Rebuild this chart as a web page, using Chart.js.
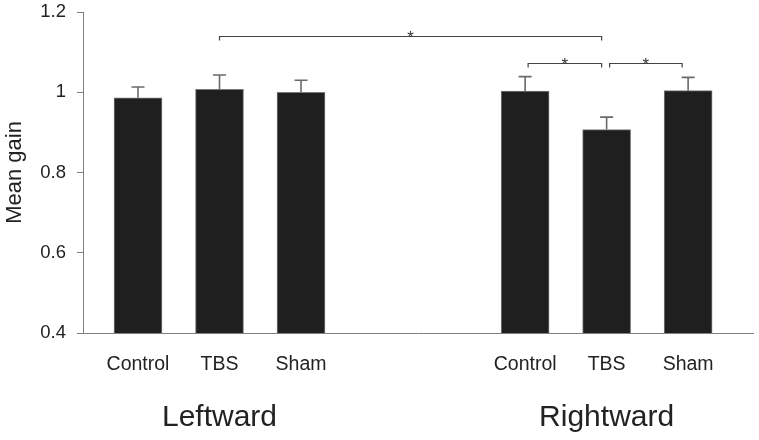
<!DOCTYPE html>
<html><head><meta charset="utf-8">
<script src="https://cdn.jsdelivr.net/npm/chart.js@4.4.1/dist/chart.umd.min.js"></script>
<style>html,body{margin:0;padding:0;background:#fff}canvas{display:block}</style>
</head><body>
<canvas id="c" width="759" height="440"></canvas>
<script>
// ---- data ----
const groups = ['Leftward', 'Rightward'];
const conditions = ['Control', 'TBS', 'Sham'];
const leftwardMean = [0.986, 1.007, 1.000];
const leftwardErr = [0.027, 0.036, 0.030];
const rightwardMean = [1.003, 0.907, 1.004];
const rightwardErr = [0.036, 0.031, 0.033];
const yTicks = [0.4, 0.6, 0.8, 1.0, 1.2];
const yTickLabels = ['0.4', '0.6', '0.8', '1', '1.2'];
const sigFrom = [[0, 1], [1, 0], [1, 1]];
const sigTo = [[1, 1], [1, 1], [1, 2]];
const sigMarks = ['*', '*', '*'];

// ---- layout constants ----
const FONT = "'Liberation Sans', Arial, sans-serif";
const GROUP_STEP = 4.75;
const pos = (g, i) => 1 + i + g * GROUP_STEP;
const bracketLevels = [1.14, 1.072, 1.072];
const bracketOffsets = [[0, -5], [3, -5], [3, -6]];

const means = [leftwardMean, rightwardMean];
const errs = [leftwardErr, rightwardErr];
const points = [], errors = [], xPositions = [], xLabels = [];
groups.forEach((g, gi) => conditions.forEach((c, ci) => {
  points.push({ x: pos(gi, ci), y: means[gi][ci] });
  errors.push(errs[gi][ci]);
  xPositions.push(pos(gi, ci));
  xLabels.push(c);
}));

const overlay = {
  id: 'overlay',
  afterDatasetsDraw(chart) {
    const ctx = chart.ctx, x = chart.scales.x, y = chart.scales.y;
    ctx.save();
    // error bars
    ctx.strokeStyle = '#6a6a6a';
    ctx.lineWidth = 1.6;
    points.forEach((p, i) => {
      const px = x.getPixelForValue(p.x);
      const y0 = y.getPixelForValue(p.y);
      const y1 = y.getPixelForValue(p.y + errors[i]);
      ctx.beginPath();
      ctx.moveTo(px, y0); ctx.lineTo(px, y1);
      ctx.moveTo(px - 6.5, y1); ctx.lineTo(px + 6.5, y1);
      ctx.stroke();
    });
    // significance brackets
    ctx.strokeStyle = '#444';
    ctx.lineWidth = 1.2;
    ctx.fillStyle = '#333';
    ctx.font = '17px ' + FONT;
    ctx.textAlign = 'center';
    ctx.textBaseline = 'alphabetic';
    sigFrom.forEach((f, k) => {
      const t = sigTo[k];
      const xa = x.getPixelForValue(pos(f[0], f[1])) + bracketOffsets[k][0];
      const xb = x.getPixelForValue(pos(t[0], t[1])) + bracketOffsets[k][1];
      const yl = Math.round(y.getPixelForValue(bracketLevels[k])) + 0.5;
      ctx.beginPath();
      ctx.moveTo(xa, yl + 4); ctx.lineTo(xa, yl); ctx.lineTo(xb, yl); ctx.lineTo(xb, yl + 4);
      ctx.stroke();
      ctx.fillText(sigMarks[k], (xa + xb) / 2, yl + 6);
    });
    // group labels
    ctx.fillStyle = '#222';
    ctx.font = '30px ' + FONT;
    ctx.textBaseline = 'middle';
    groups.forEach((g, gi) => {
      ctx.fillText(g, x.getPixelForValue(pos(gi, 1)), 418);
    });
    ctx.restore();
  }
};

new Chart(document.getElementById('c'), {
  type: 'bar',
  data: {
    datasets: [{
      data: points,
      backgroundColor: '#1f1f1f',
      borderColor: '#7a7a7a',
      borderWidth: 1,
      barThickness: 48
    }]
  },
  options: {
    responsive: false,
    animation: false,
    layout: { padding: { top: 12, right: 6, left: 0, bottom: 0 } },
    plugins: { legend: { display: false }, tooltip: { enabled: false } },
    scales: {
      x: {
        type: 'linear',
        offset: false,
        min: 0.325, max: 8.546,
        grid: { display: false, drawTicks: false, offset: false },
        border: { display: true, color: '#808080', width: 1 },
        afterBuildTicks: s => { s.ticks = xPositions.map(v => ({ value: v })); },
        afterFit: s => { s.height = 107; s.paddingLeft = 0; s.paddingRight = 0; },
        ticks: {
          autoSkip: false, maxRotation: 0, padding: 20,
          color: '#222', font: { family: FONT, size: 19.5 },
          callback: (v, i) => xLabels[i]
        }
      },
      y: {
        min: 0.4, max: 1.2,
        grid: { drawOnChartArea: false, drawTicks: true, tickLength: 6, color: '#808080' },
        border: { display: true, color: '#808080', width: 1 },
        afterBuildTicks: s => { s.ticks = yTicks.map(v => ({ value: v })); },
        afterFit: s => { s.width = 83; s.paddingTop = 0; s.paddingBottom = 0; },
        ticks: {
          padding: 11, color: '#222', font: { family: FONT, size: 18.5 },
          callback: (v, i) => yTickLabels[i]
        },
        title: {
          display: true, text: 'Mean gain', color: '#222',
          font: { family: FONT, size: 22 }, padding: { top: 2, bottom: 0 }
        }
      }
    }
  },
  plugins: [overlay]
});
</script>
</body></html>
